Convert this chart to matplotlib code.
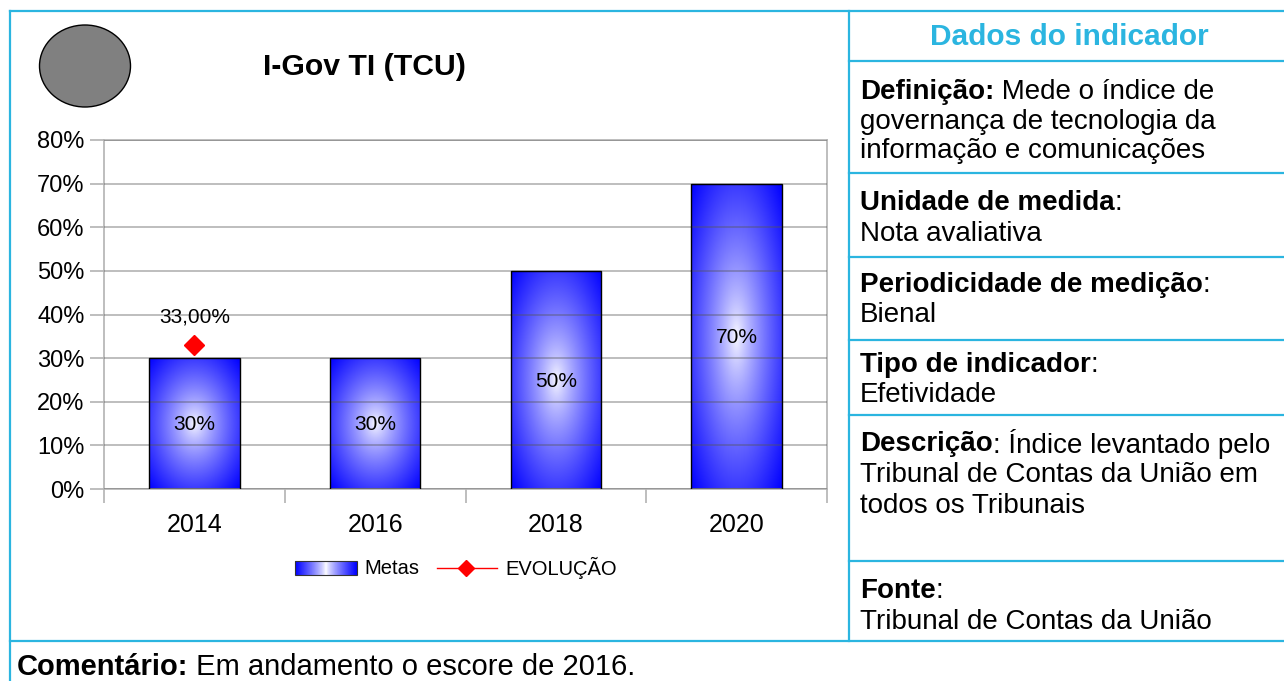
import numpy as np
import matplotlib
matplotlib.use("Agg")
import matplotlib.pyplot as plt
from matplotlib.patches import Ellipse
from matplotlib.lines import Line2D

plt.rcParams['font.family'] = ['Liberation Sans', 'DejaVu Sans']

# dados
anos = ['2014', '2016', '2018', '2020']
metas = [0.30, 0.30, 0.50, 0.70]
metas_rotulos = ['30%', '30%', '50%', '70%']
evolucao_anos = ['2014']
evolucao = [0.33]
evolucao_rotulos = ['33,00%']
y_ticks = [0, 0.1, 0.2, 0.3, 0.4, 0.5, 0.6, 0.7, 0.8]

W, H = 1284, 681
CIANO = '#2bb5e0'

fig = plt.figure(figsize=(W / 100, H / 100), dpi=100)


def fx(x):
    return x / W


def fy(y):
    return 1 - y / H


# bordas da tabela
def hline(y, x0, x1):
    fig.add_artist(Line2D([fx(x0), fx(x1)], [fy(y), fy(y)], color=CIANO, lw=1.6))


def vline(x, y0, y1):
    fig.add_artist(Line2D([fx(x), fx(x)], [fy(y0), fy(y1)], color=CIANO, lw=1.6))


hline(11, 10, W)
hline(641, 10, W)
vline(10, 11, H)
vline(849, 11, 641)
for yy in [61, 173, 257, 340, 415, 561]:
    hline(yy, 849, W)

# gráfico
ax = fig.add_axes([fx(104), fy(489), fx(827) - fx(104), (489 - 140) / H])
x = np.arange(len(anos))
bars = ax.bar(x, metas, width=0.5, color='none', edgecolor='black', lw=1, zorder=3)

# gradiente radial dentro das barras
gy, gx = np.mgrid[-1:1:200j, -1:1:200j]
t = np.clip(np.sqrt(gx ** 2 + gy ** 2) / np.sqrt(2), 0, 1) ** 0.75
grad = np.zeros((200, 200, 3))
grad[..., 0] = 1 - t
grad[..., 1] = 1 - t
grad[..., 2] = 1
for b in bars:
    x0, y0 = b.get_x(), b.get_y()
    im = ax.imshow(grad, extent=[x0, x0 + b.get_width(), y0, y0 + b.get_height()],
                   aspect='auto', zorder=2, interpolation='bilinear')
    im.set_clip_path(b)

for xi, v, lab in zip(x, metas, metas_rotulos):
    ax.text(xi, v / 2 - 0.003, lab, ha='center', va='center', fontsize=15, zorder=5)

ev_x = [anos.index(a) for a in evolucao_anos]
ax.plot(ev_x, evolucao, color='red', marker='D', markersize=10, lw=1, zorder=6)
for xi, v, lab in zip(ev_x, evolucao, evolucao_rotulos):
    ax.text(xi, v + 0.065, lab, ha='center', va='center', fontsize=15, zorder=6)

ax.set_xlim(-0.5, 3.5)
ax.set_ylim(0, 0.8)
ax.set_yticks(y_ticks)
ax.set_yticklabels([f'{int(round(v * 100))}%' for v in y_ticks], fontsize=17)
ax.set_xticks(x)
ax.set_xticklabels(anos, fontsize=18)
ax.set_xticks(np.arange(-0.5, 4, 1), minor=True)
ax.tick_params(axis='x', which='major', length=0, pad=17)
ax.tick_params(axis='x', which='minor', length=10, color='#b3b3b3', width=1.2)
ax.tick_params(axis='y', length=10, color='#b3b3b3', width=1.2, pad=4)
ax.yaxis.grid(True, color='#555555', alpha=0.45, lw=1.2, zorder=4)
ax.set_axisbelow(False)
for s in ax.spines.values():
    s.set_color('#b3b3b3')
    s.set_linewidth(1.2)

# legenda
lax = fig.add_axes([0, 0, 1, 1], facecolor='none')
lax.set_xlim(0, W)
lax.set_ylim(H, 0)
lax.axis('off')
lg = np.linspace(-1, 1, 100)
lt = np.abs(lg)[None, :] ** 0.8
lgrad = np.stack([1 - lt, 1 - lt, np.ones_like(lt)], axis=-1)
lax.imshow(lgrad, extent=[295, 357, 575, 561], aspect='auto', interpolation='bilinear')
lax.add_patch(plt.Rectangle((295, 561), 62, 14, fill=False, ec='#333333', lw=0.8))
lax.text(364, 568, 'Metas', va='center', fontsize=14.5)
lax.plot([437, 497], [568, 568], color='red', lw=1)
lax.plot([466], [568], marker='D', color='red', markersize=8)
lax.text(505, 568, 'EVOLUÇÃO', va='center', fontsize=14.5)

# círculo e título
lax.add_patch(Ellipse((85, 66), 91, 82, fc='#808080', ec='black', lw=1))
lax.text(364, 67, 'I-Gov TI (TCU)', ha='center', va='center', fontsize=21.7, fontweight='bold')

# painel de dados
lax.text(1069, 37, 'Dados do indicador', ha='center', va='center', fontsize=21.5,
         fontweight='bold', color=CIANO)

fig.canvas.draw()
renderer = fig.canvas.get_renderer()


def linha(xp, yp, negrito, resto, size=20):
    if negrito:
        tb = lax.text(xp, yp, negrito, va='center_baseline', fontsize=size, fontweight='bold')
        bb = tb.get_window_extent(renderer)
        xp2 = lax.transData.inverted().transform((bb.x1, 0))[0]
    else:
        xp2 = xp
    if resto:
        lax.text(xp2, yp, resto, va='center_baseline', fontsize=size)


XL = 860
linha(XL, 89, 'Definição:', ' Mede o índice de')
linha(XL, 119, None, 'governança de tecnologia da')
linha(XL, 148, None, 'informação e comunicações')
linha(XL, 200, 'Unidade de medida', ':')
linha(XL, 231, None, 'Nota avaliativa')
linha(XL, 282, 'Periodicidade de medição', ':')
linha(XL, 312, None, 'Bienal')
linha(XL, 362, 'Tipo de indicador', ':')
linha(XL, 392, None, 'Efetividade')
linha(XL, 441, 'Descrição', ': Índice levantado pelo')
linha(XL, 472, None, 'Tribunal de Contas da União em')
linha(XL, 503, None, 'todos os Tribunais')
linha(XL, 588, 'Fonte', ':')
linha(XL, 619, None, 'Tribunal de Contas da União')

linha(17, 664, 'Comentário:', ' Em andamento o escore de 2016.', size=21)

fig.savefig('out.png', dpi=100)
